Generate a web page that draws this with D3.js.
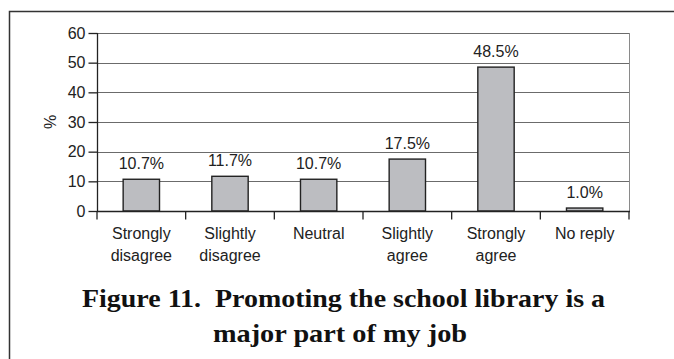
<!DOCTYPE html>
<html><head><meta charset="utf-8">
<script src="https://cdn.jsdelivr.net/npm/d3@7"></script>
<style>html,body{margin:0;padding:0;background:#fff;}svg{display:block;}</style>
</head><body>
<svg id="chart" width="674" height="359"></svg>
<script>
const categories = [["Strongly","disagree"],["Slightly","disagree"],["Neutral"],["Slightly","agree"],["Strongly","agree"],["No reply"]];
const values = [10.7, 11.7, 10.7, 17.5, 48.5, 1.0];
const valueLabels = ["10.7%","11.7%","10.7%","17.5%","48.5%","1.0%"];
const yTicks = [0,10,20,30,40,50,60];
const titleLines = ["Figure 11.  Promoting the school library is a", "major part of my job"];
const yLabel = "%";

const svg = d3.select("#chart");
const W = 674, H = 359;
const m = {left: 97, right: 629, top: 33, bottom: 211};
const font = "'Liberation Sans', Arial, Helvetica, sans-serif";

// frame
svg.append("path").attr("d", `M9.5,${H+2} L9.5,11.5 L${W+2},11.5`)
  .attr("fill","none").attr("stroke","#333").attr("stroke-width",1.5);

const x = d3.scaleBand().domain(d3.range(values.length)).range([m.left, m.right]).paddingInner(0.59).paddingOuter(0.295);
const xb = d3.scaleBand().domain(d3.range(values.length)).range([m.left, m.right]);
const y = d3.scaleLinear().domain([0,60]).range([m.bottom, m.top]);

// gridlines
svg.append("g").selectAll("line").data(yTicks.filter(d=>d>0)).join("line")
  .attr("x1", m.left).attr("x2", m.right)
  .attr("y1", d=>Math.round(y(d))+0.5).attr("y2", d=>Math.round(y(d))+0.5)
  .attr("stroke","#6b6b6b").attr("stroke-width",1);
// right border
svg.append("line").attr("x1", m.right+0.5).attr("x2", m.right+0.5)
  .attr("y1", m.top).attr("y2", m.bottom).attr("stroke","#8a8a8a").attr("stroke-width",1);

// bars
svg.append("g").selectAll("rect").data(values).join("rect")
  .attr("x", (d,i)=>x(i)).attr("width", x.bandwidth())
  .attr("y", d=>y(d)).attr("height", d=>y(0)-y(d))
  .attr("fill","#bcbdc1").attr("stroke","#222").attr("stroke-width",1.4);

// value labels
svg.append("g").selectAll("text").data(values).join("text")
  .attr("x", (d,i)=>x(i)+x.bandwidth()/2).attr("y", d=>y(d)-10)
  .attr("text-anchor","middle").attr("font-family",font).attr("font-size",16).attr("fill","#222")
  .text((d,i)=>valueLabels[i]);

// y axis
const yAxis = svg.append("g").attr("transform",`translate(${m.left+0.5},0)`)
  .call(d3.axisLeft(y).tickValues(yTicks).tickSize(9).tickPadding(3).tickFormat(d3.format("d")));
yAxis.select(".domain").attr("stroke","#222").attr("stroke-width",1.3).attr("d",`M0,${m.top}V${m.bottom}`);
yAxis.selectAll(".tick line").attr("stroke","#222").attr("stroke-width",1.3);
yAxis.selectAll(".tick text").attr("font-family",font).attr("font-size",16).attr("fill","#222");

// x axis
const xAxis = svg.append("g").attr("transform",`translate(0,${m.bottom+0.5})`);
xAxis.append("line").attr("x1",m.left).attr("x2",m.right+1).attr("stroke","#222").attr("stroke-width",1.3);
const tickXs = d3.range(values.length+1).map(i => i<values.length ? xb(i) : xb(values.length-1)+xb.bandwidth());
xAxis.selectAll(".xt").data(tickXs).join("line").attr("class","xt")
  .attr("x1",d=>d).attr("x2",d=>d).attr("y1",0).attr("y2",8).attr("stroke","#222").attr("stroke-width",1.3);
const catG = svg.append("g").selectAll("text").data(categories).join("text")
  .attr("x",(d,i)=>xb(i)+xb.bandwidth()/2).attr("y",239)
  .attr("text-anchor","middle").attr("font-family",font).attr("font-size",16).attr("fill","#222");
catG.selectAll("tspan").data(d=>d).join("tspan")
  .attr("x", function(){return this.parentNode.getAttribute("x");})
  .attr("dy",(d,i)=>i===0?0:21.5).text(d=>d);

// y label
svg.append("text").attr("transform","translate(56,122) rotate(-90)")
  .attr("text-anchor","middle").attr("font-family",font).attr("font-size",16).attr("fill","#222").text(yLabel);

// title
const tfont = "'Times New Roman', 'Liberation Serif', serif";
const titleWidths = [523, 254];
svg.append("g").selectAll("text").data(titleLines).join("text")
  .attr("x",(d,i)=>i===0?343.5:340).attr("y",(d,i)=>307+i*35)
  .attr("text-anchor","middle").attr("font-family",tfont).attr("font-weight","bold").attr("font-size",25)
  .attr("fill","#111").style("white-space","pre")
  .attr("textLength",(d,i)=>titleWidths[i]).attr("lengthAdjust","spacingAndGlyphs")
  .text(d=>d);
</script>
</body></html>
